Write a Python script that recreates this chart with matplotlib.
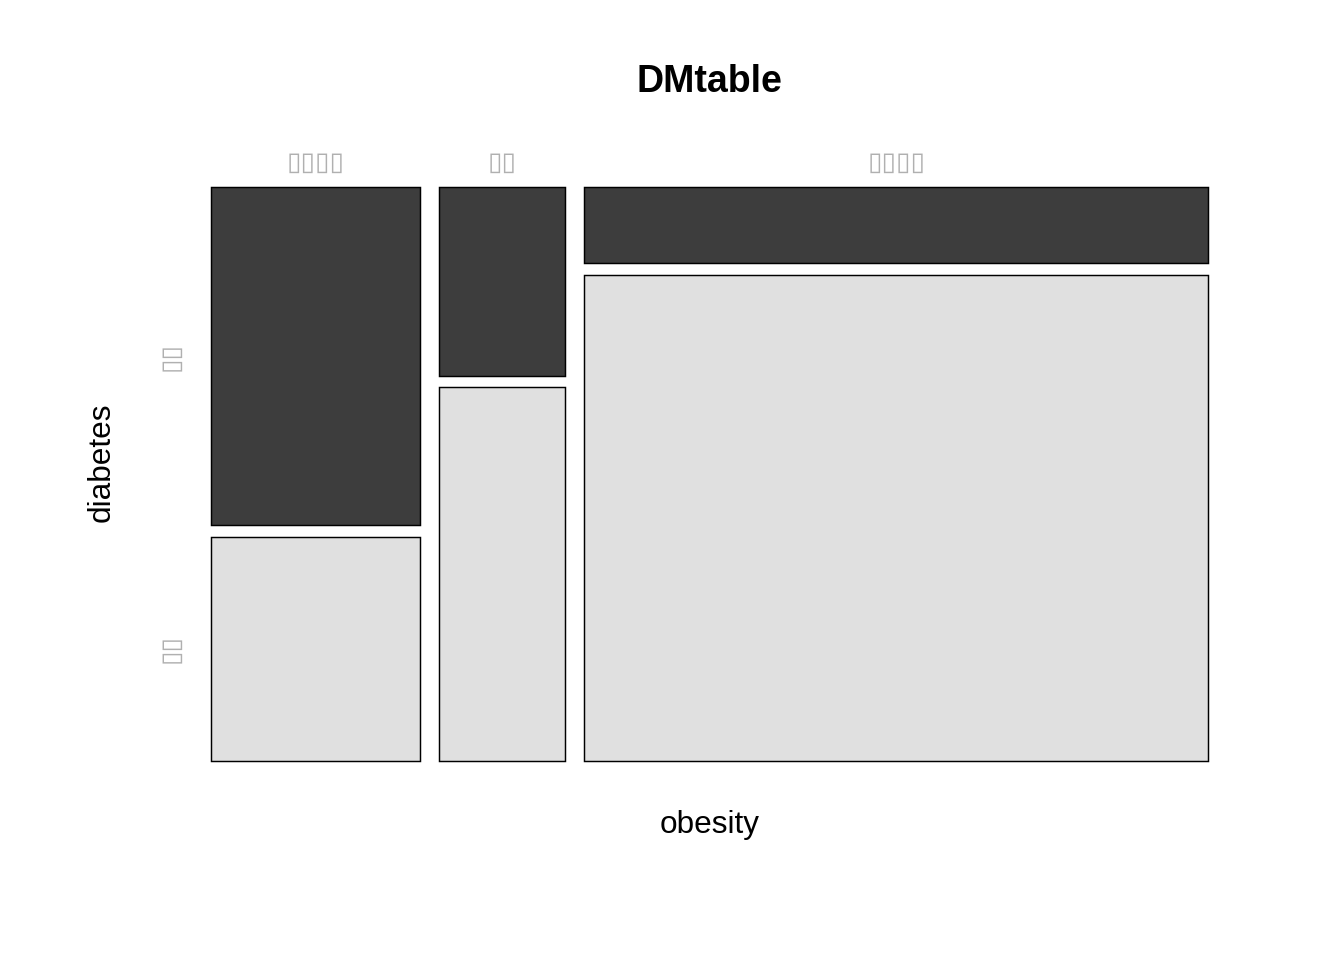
import matplotlib
matplotlib.use('Agg')
import matplotlib.pyplot as plt
from matplotlib.patches import Rectangle

# counts (rows: diabetes level, cols: obesity level)
obesity_levels = ['▯▯▯▯', '▯▯', '▯▯▯▯']
diabetes_levels = ['▯▯', '▯▯']
dm_yes = [131, 44, 88]     # dark tiles (top)
dm_no = [87, 87, 563]      # light tiles (bottom)

dark_col = '#3d3d3d'
light_col = '#e0e0e0'


def draw_mosaic(ax, top, bottom, gx=0.0196, gy=0.02):
    totals = [a + b for a, b in zip(top, bottom)]
    n = sum(totals)
    usable_w = 1 - gx * (len(totals) - 1)
    x = 0
    centers = []
    first_col_mid = None
    for i in range(len(totals)):
        w = usable_w * totals[i] / n
        h_low = (1 - gy) * bottom[i] / totals[i]
        h_top = (1 - gy) * top[i] / totals[i]
        ax.add_patch(Rectangle((x, 0), w, h_low, facecolor=light_col,
                               edgecolor='black', linewidth=1.05, clip_on=False))
        ax.add_patch(Rectangle((x, h_low + gy), w, h_top, facecolor=dark_col,
                               edgecolor='black', linewidth=1.05, clip_on=False))
        if first_col_mid is None:
            first_col_mid = [h_low + gy + h_top / 2, h_low / 2]
        centers.append(x + w / 2)
        x += w + gx
    return centers, first_col_mid


fig = plt.figure(figsize=(13.44, 9.6), dpi=100)
ax = fig.add_axes([211 / 1344, 1 - 761 / 960, 997 / 1344, 574 / 960])
ax.set_xlim(0, 1)
ax.set_ylim(0, 1)

centers, ymids = draw_mosaic(ax, dm_yes, dm_no)

for s in ax.spines.values():
    s.set_visible(False)

ax.xaxis.tick_top()
ax.set_xticks(centers)
ax.set_xticklabels(obesity_levels, color='#b0b0b0', fontsize=19,
                   family='DejaVu Sans')
ax.tick_params(axis='x', length=0, pad=8)

ax.set_yticks(ymids)
ax.set_yticklabels(diabetes_levels, color='#b0b0b0', fontsize=19,
                   family='DejaVu Sans', rotation=90, va='center')
ax.tick_params(axis='y', length=0, pad=20)

fig.text(709.5 / 1344, 1 - 82 / 960, 'DMtable', ha='center', va='center',
         fontsize=27, fontweight='bold', family='Liberation Sans')
fig.text(709.5 / 1344, 1 - 825 / 960, 'obesity', ha='center', va='center',
         fontsize=22.7, family='Liberation Sans')
fig.text(102 / 1344, 1 - 462 / 960, 'diabetes', ha='center', va='center',
         fontsize=22.7, family='Liberation Sans', rotation=90)

fig.savefig('out.png', dpi=100)
